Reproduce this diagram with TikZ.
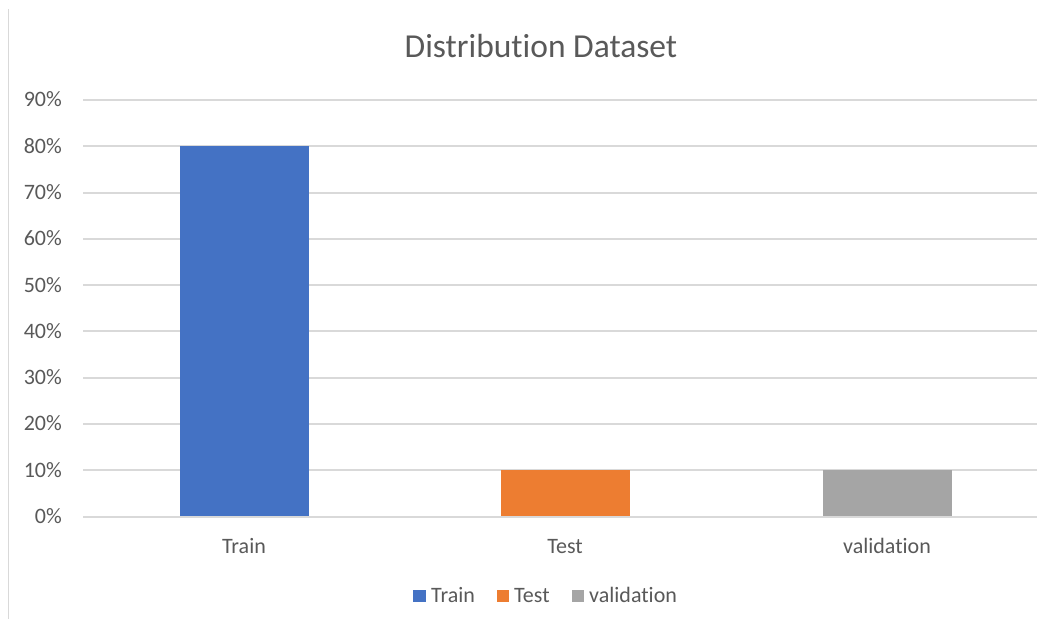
\documentclass[tikz,border=0pt]{standalone}
\usepackage{fontspec}
\setmainfont{Carlito}[Ligatures={NoCommon,NoContextual}]
\definecolor{txt}{HTML}{595959}
\definecolor{grid}{HTML}{D9D9D9}
\definecolor{cTrain}{HTML}{4472C4}
\definecolor{cTest}{HTML}{ED7D31}
\definecolor{cVal}{HTML}{A5A5A5}
\begin{document}
\begin{tikzpicture}[x=1pt,y=-1pt,
  gridline/.style={draw=grid,line width=2pt},
  ylab/.style={anchor=base east,text=txt,font=\fontsize{22}{22}\selectfont,inner sep=0pt},
  catlab/.style={anchor=base,text=txt,font=\fontsize{22}{22}\selectfont,inner sep=0pt},
  leglab/.style={anchor=base west,text=txt,font=\fontsize{22}{22}\selectfont,inner sep=0pt}]
\useasboundingbox[fill=white] (0,0) rectangle (1037,619);
\draw[draw=grid,line width=1.2pt] (8.5,9) -- (8.5,619);
\node[anchor=base,text=txt,font=\fontsize{33.5}{33.5}\selectfont,inner sep=0pt] (title) at (541,57) {Distribution Dataset};
% gridlines and labels
\foreach \i/\lab in {0/0,1/10,2/20,3/30,4/40,5/50,6/60,7/70,8/80,9/90}{
  \pgfmathsetmacro{\yy}{516.5-46.28*\i}
  \draw[gridline] (83,\yy) -- (1037,\yy);
  \node[ylab] (y\i) at (62,\yy+7) {\lab\%};
}
% bars
\fill[cTrain] (179.5,146.2) rectangle (308.5,516);
\fill[cTest] (501,470.2) rectangle (629.5,516);
\fill[cVal] (823,470.2) rectangle (951.5,516);
% category labels
\node[catlab] (cTrainL) at (244,553) {Train};
\node[catlab] (cTestL) at (565,553) {Test};
\node[catlab] (cValL) at (887,553) {validation};
% legend
\fill[cTrain] (413,590) rectangle (426,602);
\node[leglab] (lTrain) at (431,602) {Train};
\fill[cTest] (497,590) rectangle (509,602);
\node[leglab] (lTest) at (514,602) {Test};
\fill[cVal] (572,590) rectangle (584,602);
\node[leglab] (lVal) at (589,602) {validation};
\end{tikzpicture}
\end{document}
